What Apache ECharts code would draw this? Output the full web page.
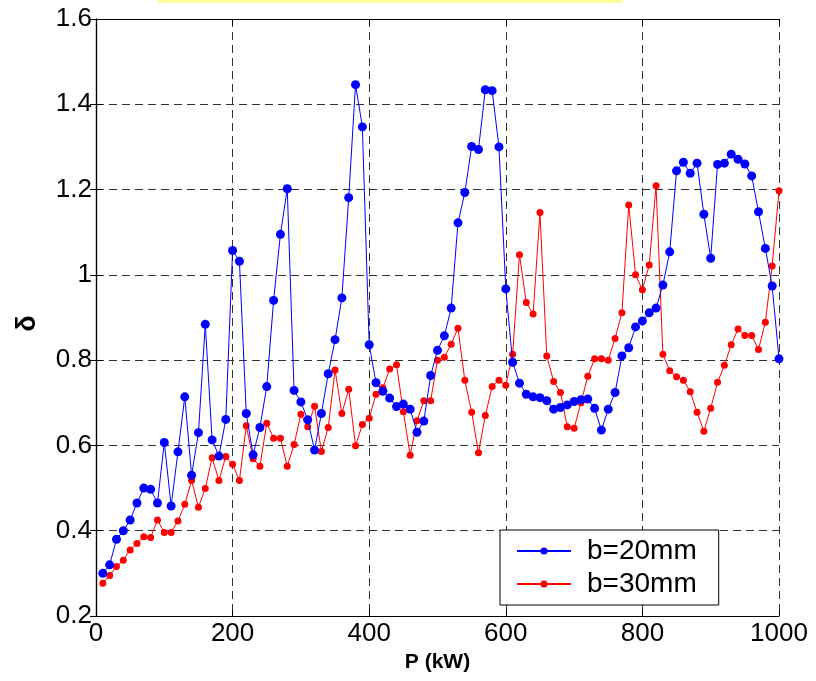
<!DOCTYPE html>
<html>
<head>
<meta charset="utf-8">
<script src="https://cdn.jsdelivr.net/npm/echarts@6/dist/echarts.min.js"></script>
<style>
html,body{margin:0;padding:0;background:#fff;}
#main{width:816px;height:681px;}
</style>
</head>
<body>
<div id="main"></div>
<script>
const power = [10,20,30,40,50,60,70,80,90,100,110,120,130,140,150,160,170,180,190,200,
210,220,230,240,250,260,270,280,290,300,310,320,330,340,350,360,370,380,390,400,
410,420,430,440,450,460,470,480,490,500,510,520,530,540,550,560,570,580,590,600,
610,620,630,640,650,660,670,680,690,700,710,720,730,740,750,760,770,780,790,800,
810,820,830,840,850,860,870,880,890,900,910,920,930,940,950,960,970,980,990,1000];

const b20 = [0.30,0.32,0.38,0.40,0.425,0.465,0.50,0.497,0.465,0.607,
0.458,0.585,0.714,0.53,0.63,0.884,0.613,0.575,0.661,1.057,
1.032,0.675,0.578,0.642,0.738,0.940,1.095,1.202,0.729,0.702,
0.660,0.589,0.675,0.768,0.848,0.946,1.181,1.446,1.347,0.836,
0.747,0.727,0.711,0.691,0.697,0.685,0.631,0.657,0.764,0.823,
0.857,0.922,1.122,1.193,1.301,1.294,1.434,1.432,1.300,0.967,
0.795,0.746,0.720,0.714,0.712,0.705,0.685,0.689,0.695,0.703,
0.707,0.709,0.687,0.636,0.685,0.724,0.810,0.829,0.878,0.892,
0.911,0.922,0.976,1.054,1.244,1.264,1.238,1.262,1.142,1.039,
1.259,1.262,1.283,1.271,1.260,1.232,1.148,1.062,0.974,0.803];

const b30 = [0.277,0.295,0.316,0.331,0.355,0.370,0.386,0.384,0.425,0.396,
0.396,0.423,0.462,0.518,0.455,0.499,0.571,0.518,0.574,0.556,
0.518,0.646,0.569,0.551,0.652,0.617,0.617,0.551,0.602,0.673,
0.644,0.692,0.586,0.642,0.777,0.675,0.732,0.599,0.649,0.664,
0.720,0.735,0.779,0.789,0.679,0.577,0.658,0.705,0.705,0.800,
0.807,0.837,0.875,0.753,0.678,0.583,0.670,0.738,0.753,0.741,
0.814,1.047,0.935,0.908,1.146,0.810,0.750,0.724,0.644,0.640,
0.700,0.762,0.803,0.803,0.800,0.851,0.911,1.164,1.000,0.965,
1.023,1.209,0.814,0.775,0.761,0.753,0.726,0.678,0.633,0.687,
0.748,0.788,0.836,0.873,0.858,0.858,0.825,0.889,1.021,1.197];

const seriesNames = ['b=20mm','b=30mm'];

const chart = echarts.init(document.getElementById('main'));
const font = 'Liberation Sans, Arial, sans-serif';
const gridLine = {show:true, lineStyle:{color:'#333', type:[8,5], width:1}};
const axLine = {show:true, lineStyle:{color:'#000', width:1.2}};

chart.setOption({
  animation:false,
  backgroundColor:'#fff',
  graphic:[{type:'rect', left:158, top:0, shape:{width:465, height:3}, style:{fill:'#fbfb9c'}}],
  grid:{left:96, right:37, top:19, bottom:65, containLabel:false},
  xAxis:[{
    type:'value', min:0, max:1000, interval:200, position:'bottom',
    axisLine:axLine, axisTick:{show:true, inside:true, length:6, lineStyle:{color:'#000'}},
    axisLabel:{fontFamily:font, fontSize:26, color:'#000', margin:5,
      formatter:v => String(v)},
    splitLine:gridLine,
    name:'P (kW)', nameLocation:'middle', nameGap:35,
    nameTextStyle:{fontFamily:font, fontWeight:'bold', fontSize:21, color:'#000'}
  },{
    type:'value', min:0, max:1000, interval:200, position:'top',
    axisLine:axLine, axisTick:{show:true, inside:true, length:6, lineStyle:{color:'#000'}},
    axisLabel:{show:false}, splitLine:{show:false}
  }],
  yAxis:[{
    type:'value', min:0.2, max:1.6, interval:0.2, position:'left',
    axisLine:axLine, axisTick:{show:true, inside:true, length:6, lineStyle:{color:'#000'}},
    axisLabel:{fontFamily:font, fontSize:26, color:'#000', margin:4,
      formatter:v => String(+v.toFixed(1))},
    splitLine:gridLine,
    name:'δ', nameLocation:'middle', nameGap:55, nameRotate:90,
    nameTextStyle:{fontFamily:font, fontWeight:'bold', fontSize:27, color:'#000', padding:[0,12,0,0]}
  },{
    type:'value', min:0.2, max:1.6, interval:0.2, position:'right',
    axisLine:axLine, axisTick:{show:true, inside:true, length:6, lineStyle:{color:'#000'}},
    axisLabel:{show:false}, splitLine:{show:false}
  }],
  legend:{
    left:500, top:530, orient:'vertical',
    padding:[7,22,7,16],
    itemGap:5,
    itemWidth:54, itemHeight:9,
    backgroundColor:'#fff', borderColor:'#000', borderWidth:1, borderRadius:0,
    textStyle:{fontFamily:font, fontSize:28, lineHeight:28, color:'#000', padding:[0,0,0,11]},
    data:seriesNames
  },
  series:[{
    name:seriesNames[0], type:'line',
    data:power.map((p,i)=>[p,b20[i]]),
    symbol:'circle', symbolSize:9, showSymbol:true,
    itemStyle:{color:'#0000ff'}, lineStyle:{color:'#0000ff', width:1},
    z:3
  },{
    name:seriesNames[1], type:'line',
    data:power.map((p,i)=>[p,b30[i]]),
    symbol:'circle', symbolSize:7, showSymbol:true,
    itemStyle:{color:'#ff0000'}, lineStyle:{color:'#ff0000', width:1},
    z:2
  }]
});
</script>
</body>
</html>
